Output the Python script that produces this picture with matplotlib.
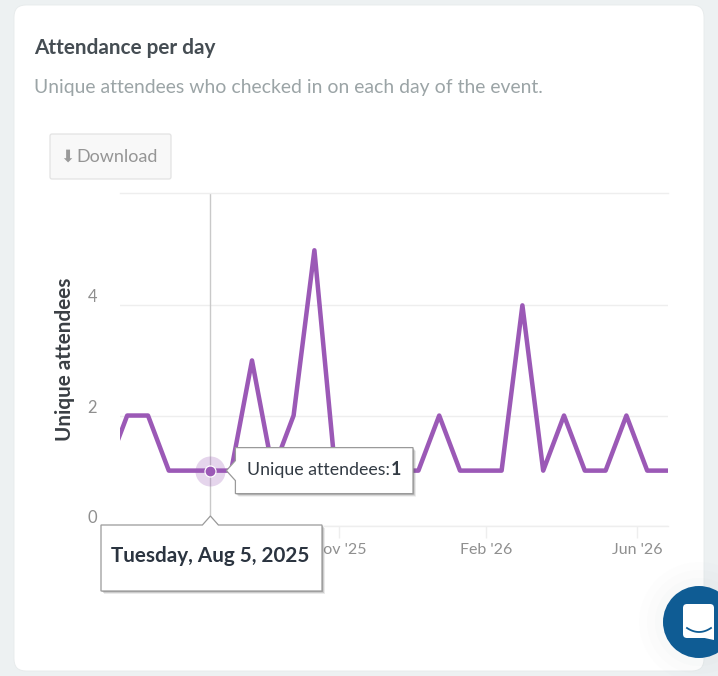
import numpy as np
import matplotlib
matplotlib.use('Agg')
import matplotlib.pyplot as plt
from matplotlib.patches import Circle, FancyBboxPatch, Polygon

plt.rcParams['font.family'] = ['Lato', 'DejaVu Sans']

# daily unique attendees, one entry per event day
attendees = [1, 2, 2, 1, 1, 1, 1, 3, 1, 2, 5, 1, 1, 1, 1, 1, 2, 1, 1, 1, 4, 1, 2, 1, 1, 2, 1, 1]
days = np.arange(len(attendees))
hover_day = 5
hover_label = 'Tuesday, Aug 5, 2025'

month_ticks = [11.18, 18.25, 25.53]
month_labels = ["Nov '25", "Feb '26", "Jun '26"]
count_ticks = [0, 2, 4]
count_labels = ['0', '2', '4']

W, H = 718, 676
PURPLE = '#9b59b6'
GRID = '#eeeeee'
TICK_TEXT = '#8f8f8f'


def px(n):
    # css pixels to points
    return n * 72 / 100


def add_axes_px(fig, left, top, right, bottom, **kw):
    return fig.add_axes([left / W, 1 - bottom / H, (right - left) / W, (bottom - top) / H], **kw)


def tooltip(ax, corners, edge='#9a9a9a'):
    # box with a little pointer, plus a soft offset shadow underneath
    for off, alpha in ((3, 0.12), (2, 0.2), (1, 0.3)):
        ax.add_patch(Polygon([(x + off, y + off) for x, y in corners], closed=True,
                             fc='#555555', ec='none', alpha=alpha, zorder=5))
    ax.add_patch(Polygon(corners, closed=True, fc='white', ec=edge, lw=0.9, zorder=6))


fig = plt.figure(figsize=(W / 100, H / 100), dpi=100, facecolor='#edf1f2')

# page layer: card, heading, download button
page = fig.add_axes([0, 0, 1, 1], zorder=0)
page.set_xlim(0, W)
page.set_ylim(H, 0)
page.axis('off')
page.add_patch(FancyBboxPatch((24, 15), 670, 646, boxstyle='round,pad=10,rounding_size=12',
                              fc='white', ec='#e6eaeb', lw=0.6))
page.text(34.5, 48, 'Attendance per day', fontsize=px(20.8), fontweight='bold', color='#454d53', va='center')
page.text(34.5, 87, 'Unique attendees who checked in on each day of the event.',
          fontsize=px(19.4), color='#9ba4a6', va='center')
page.add_patch(FancyBboxPatch((52, 136), 117, 41, boxstyle='round,pad=2,rounding_size=2',
                              fc='#f8f8f8', ec='#e3e3e3', lw=0.9))
page.text(60, 157, '\u2b07', fontsize=px(17), color='#9a9a9a', va='center', family=['DejaVu Sans'])
page.text(76.5, 157, 'Download', fontsize=px(18), color='#959595', va='center')

# chart
ax = add_axes_px(fig, 120, 193, 668, 525.7, zorder=1)
ax.patch.set_alpha(0)
ax.plot(days, attendees, color=PURPLE, lw=px(4.5), solid_joinstyle='round', solid_capstyle='butt', zorder=3)
ax.set_xlim(0.654, 27)
ax.set_ylim(0, 6.04)
ax.set_xticks(month_ticks)
ax.set_xticklabels(month_labels)
ax.set_yticks(count_ticks)
ax.set_yticklabels(count_labels)
ax.grid(axis='y', color=GRID, lw=1)
ax.set_axisbelow(True)
for side in ('left', 'right'):
    ax.spines[side].set_visible(False)
for side in ('top', 'bottom'):
    ax.spines[side].set_color(GRID)
    ax.spines[side].set_linewidth(1)
ax.tick_params(axis='x', length=px(12), width=1, color=GRID, pad=px(5),
               labelsize=px(16), labelcolor=TICK_TEXT)
ax.tick_params(axis='y', length=0, pad=px(23), labelsize=px(16.5), labelcolor=TICK_TEXT)
for lab in ax.get_yticklabels():
    lab.set_va('bottom')
ax.set_ylabel('Unique attendees', fontsize=px(20.8), fontweight='bold', color='#3a3f44')
ax.yaxis.set_label_coords((75 - 120) / 548, 0.5)

# hover state
ax.axvline(days[hover_day], color='#c9c9c9', lw=1, zorder=2)
ax.plot(days[hover_day], attendees[hover_day], 'o', ms=px(30), mfc=PURPLE, mec='none', alpha=0.25,
        clip_on=False, zorder=4)
ax.plot(days[hover_day], attendees[hover_day], 'o', ms=px(11), mfc=PURPLE, mec='white', mew=px(1.2),
        clip_on=False, zorder=5)

# overlay layer: tooltips and chat launcher
top = fig.add_axes([0, 0, 1, 1], zorder=2)
top.set_xlim(0, W)
top.set_ylim(H, 0)
top.axis('off')
top.patch.set_alpha(0)

hx, hy = top.transData.inverted().transform(ax.transData.transform((days[hover_day], attendees[hover_day])))

tooltip(top, [(hx + 16, hy), (hx + 25, hy - 10), (hx + 25, hy - 23), (413, hy - 23), (413, hy + 23),
              (hx + 25, hy + 23), (hx + 25, hy + 10)])
top.text(390, hy - 1, 'Unique attendees:', fontsize=px(17.8), color='#333b44', ha='right', va='center', zorder=7)
top.text(391, hy - 1, str(attendees[hover_day]), fontsize=px(17.8), fontweight='bold', color='#333b44',
         ha='left', va='center', zorder=7)

tooltip(top, [(hx, 516), (hx + 8, 525), (322, 525), (322, 591), (101, 591), (101, 525), (hx - 8, 525)])
top.text(hx, 556, hover_label, fontsize=px(20.6), fontweight='bold', color='#2b3440', ha='center', va='center',
         zorder=7)

# chat launcher in the corner
for r, a in ((60, 0.012), (52, 0.015), (44, 0.02)):
    top.add_patch(Circle((699, 622), r, fc='#8a9aa5', ec='none', alpha=a, zorder=7))
top.add_patch(Circle((699, 622), 36, fc='#0f5c94', ec='none', zorder=8))
top.add_patch(FancyBboxPatch((687, 608), 23, 26, boxstyle='round,pad=4,rounding_size=4',
                             fc='white', ec='none', zorder=9))
top.add_patch(Polygon([(700, 637), (714, 632), (714, 640)], closed=True, fc='white', ec='none', zorder=9))
smile = np.linspace(-1, 1, 30)
top.plot(699 + 12 * smile, 628 + 4 * (1 - smile ** 2), color='#0f5c94', lw=px(1.8), zorder=10)

fig.savefig('out.png', dpi=100, facecolor=fig.get_facecolor())
